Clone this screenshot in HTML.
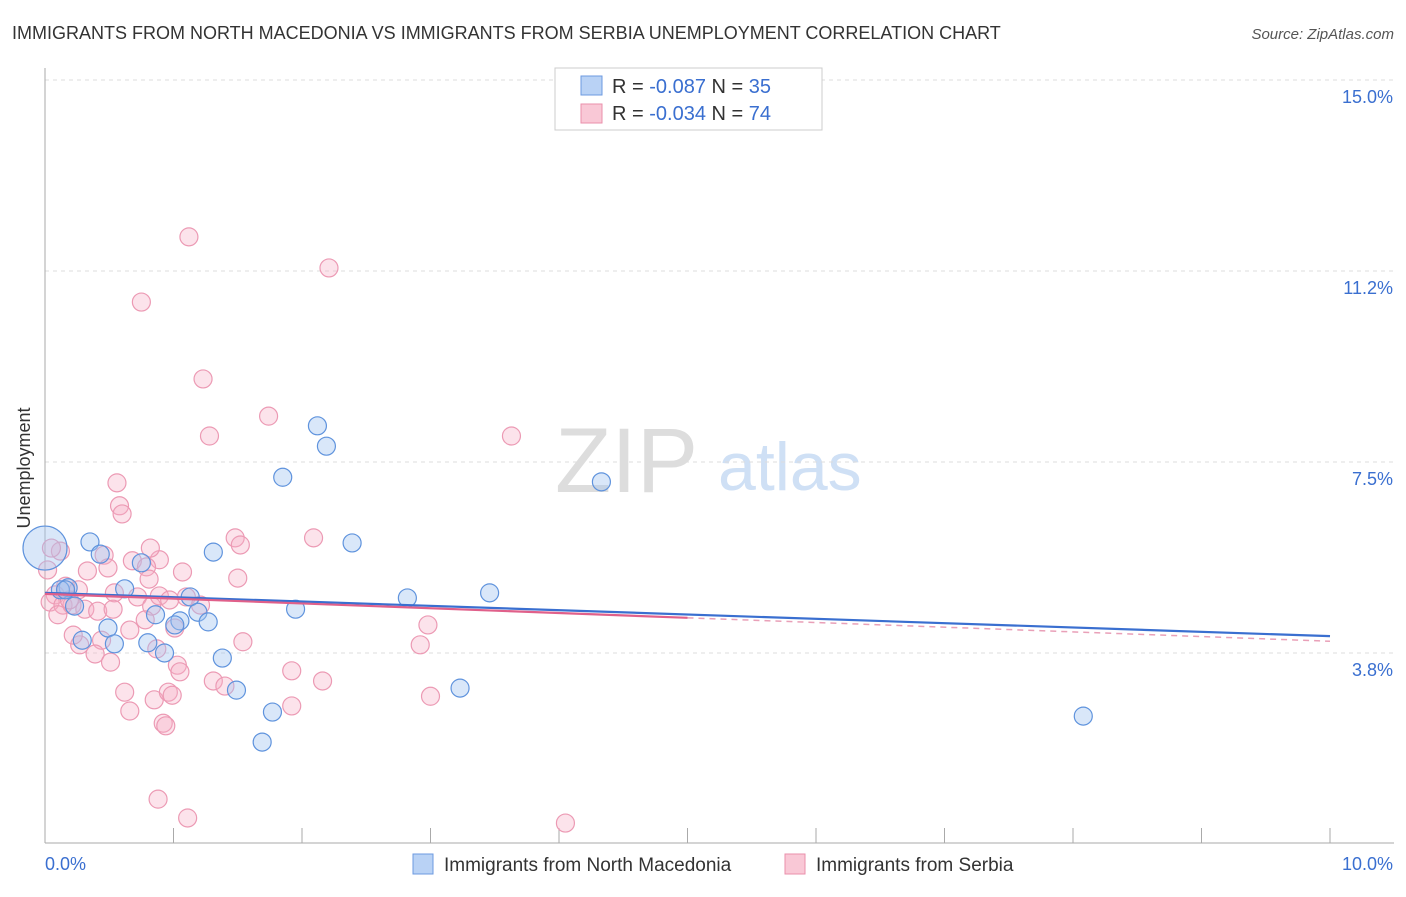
<!DOCTYPE html>
<html><head><meta charset="utf-8"><style>
body{margin:0;background:#fff;font-family:"Liberation Sans",sans-serif}
svg text{font-family:"Liberation Sans",sans-serif}
</style></head><body>
<svg width="1406" height="892" xmlns="http://www.w3.org/2000/svg">
<text x="12" y="39" font-size="18" fill="#333">IMMIGRANTS FROM NORTH MACEDONIA VS IMMIGRANTS FROM SERBIA UNEMPLOYMENT CORRELATION CHART</text>
<text x="1394" y="39" font-size="15" fill="#555" font-style="italic" text-anchor="end">Source: ZipAtlas.com</text>
<text x="18" y="456" font-size="18" fill="#333" transform="rotate(-90 30 456)" text-anchor="middle">Unemployment</text>
<text x="555" y="492" font-size="92" fill="#ddd" font-family="Liberation Serif">ZIP</text>
<text x="718" y="490" font-size="68" fill="#cfe0f5">atlas</text>
<g id="grid"></g><g id="axes"></g><g id="pts"></g><g id="trend"></g>
<g>
<rect x="555" y="68" width="267" height="62" fill="#fff" stroke="#ccc"/>
<rect x="581" y="76" width="21" height="19" fill="#b9d2f5" stroke="#6c9ae0"/>
<rect x="581" y="104" width="21" height="19" fill="#f9c8d6" stroke="#ea8fab"/>
<text x="612" y="93" font-size="20" fill="#333">R = <tspan fill="#3a6fd0">-0.087</tspan>   N = <tspan fill="#3a6fd0">35</tspan></text>
<text x="612" y="120" font-size="20" fill="#333">R = <tspan fill="#3a6fd0">-0.034</tspan>   N = <tspan fill="#3a6fd0">74</tspan></text>
</g>
<g>
<rect x="413" y="854" width="20" height="20" fill="#b9d2f5" stroke="#6c9ae0"/>
<text x="444" y="871" font-size="19" fill="#333">Immigrants from North Macedonia</text>
<rect x="785" y="854" width="20" height="20" fill="#f9c8d6" stroke="#ea8fab"/>
<text x="816" y="871" font-size="19" fill="#333">Immigrants from Serbia</text>
</g>
</svg>
<script>
const blueX=[0.00,0.35,0.43,0.62,0.18,0.12,0.23,0.29,0.49,0.54,0.75,0.86,0.80,0.93,1.05,1.13,1.19,1.27,1.31,1.38,1.49,1.01,1.77,1.69,1.85,1.95,2.12,2.19,2.39,2.82,3.23,3.46,4.33,8.08,0.16];
const blueY=[5.81,5.93,5.69,5.01,5.03,4.99,4.67,4.00,4.24,3.93,5.52,4.50,3.95,3.75,4.38,4.85,4.55,4.36,5.73,3.65,3.02,4.30,2.59,2.00,7.20,4.61,8.21,7.81,5.91,4.83,3.06,4.93,7.11,2.51,4.99];
const pinkX=[1.12,2.21,0.75,1.23,1.74,1.28,3.63,0.56,0.58,0.60,1.48,2.09,0.12,0.05,0.46,0.68,0.49,0.89,0.79,1.07,0.81,1.50,0.33,0.16,0.26,0.08,0.04,0.14,0.21,0.54,0.31,0.41,0.53,0.72,0.83,0.89,0.97,1.10,0.78,1.01,0.66,0.44,0.27,0.22,0.39,0.51,0.87,1.03,1.05,1.54,1.92,1.31,1.40,2.16,2.92,2.98,3.00,1.92,0.62,0.66,0.85,0.96,0.99,0.92,0.94,0.88,1.11,4.05,0.02,0.10,0.82,1.21,1.52,0.19];
const pinkY=[11.92,11.31,10.64,9.13,8.40,8.01,8.01,7.09,6.64,6.48,6.01,6.01,5.75,5.81,5.67,5.56,5.42,5.58,5.44,5.34,5.20,5.22,5.36,5.06,4.99,4.89,4.75,4.69,4.69,4.93,4.61,4.57,4.61,4.85,4.67,4.87,4.79,4.85,4.40,4.24,4.20,4.00,3.91,4.10,3.73,3.57,3.83,3.51,3.38,3.97,3.40,3.20,3.10,3.20,3.91,4.30,2.90,2.71,2.98,2.61,2.83,2.98,2.92,2.37,2.32,0.88,0.51,0.41,5.38,4.50,5.81,4.69,5.87,4.79];
const yTicks=[15.0,11.25,7.5,3.75];
const yTickLabels=["15.0%","11.2%","7.5%","3.8%"];
const xTicks=[0,1,2,3,4,5,6,7,8,9,10];
const blueTrend=[[0,4.93],[10,4.08]];
const pinkTrend=[[0,4.91],[5,4.44]];
const pinkDash=[[5,4.44],[10,3.98]];
const NS="http://www.w3.org/2000/svg";
const xs=v=>45+v*128.5, ys=v=>80+(15-v)*50.93;
function mk(t,a,p){const e=document.createElementNS(NS,t);for(const k in a)e.setAttribute(k,a[k]);p.appendChild(e);return e;}
const G=document.getElementById('grid'),A=document.getElementById('axes'),P=document.getElementById('pts'),T=document.getElementById('trend');
yTicks.forEach((v,i)=>{const l=mk('line',{x1:45,x2:1394,y1:ys(v),y2:ys(v),stroke:'#ddd','stroke-dasharray':'4,4'},G);


const t=mk('text',{x:1393,y:ys(v)+23,'font-size':18,fill:'#3a6fd0','text-anchor':'end'},G);t.textContent=yTickLabels[i];

});
const ax=mk('line',{x1:45,x2:45,y1:68,y2:843,stroke:'#aaa'},A);


const bx=mk('line',{x1:45,x2:1394,y1:843,y2:843,stroke:'#aaa'},A);


xTicks.forEach(v=>{const l=mk('line',{x1:xs(v),x2:xs(v),y1:828,y2:843,stroke:'#aaa'},A);

});
const x0=mk('text',{x:45,y:870,'font-size':18,fill:'#3a6fd0'},A);x0.textContent='0.0%';


const x1=mk('text',{x:1393,y:870,'font-size':18,fill:'#3a6fd0','text-anchor':'end'},A);x1.textContent='10.0%';


pinkX.forEach((v,i)=>{const c=mk('circle',{cx:xs(v),cy:ys(pinkY[i]),r:9,fill:'rgba(246,175,198,0.35)',stroke:'#ec9ab4','stroke-width':1.2},P);

});
blueX.forEach((v,i)=>{const c=mk('circle',{cx:xs(v),cy:ys(blueY[i]),r:i==0?22:9,fill:'rgba(160,195,240,0.4)',stroke:'#5f93dd','stroke-width':1.2},P);

});
const bl=mk('line',{x1:xs(blueTrend[0][0]),y1:ys(blueTrend[0][1]),x2:xs(blueTrend[1][0]),y2:ys(blueTrend[1][1]),stroke:'#3a6fd0','stroke-width':2.2},T);


const pd=mk('line',{x1:xs(pinkDash[0][0]),y1:ys(pinkDash[0][1]),x2:xs(pinkDash[1][0]),y2:ys(pinkDash[1][1]),stroke:'#e9a0b8','stroke-width':1.5,'stroke-dasharray':'6,5'},T);


const pl=mk('line',{x1:xs(pinkTrend[0][0]),y1:ys(pinkTrend[0][1]),x2:xs(pinkTrend[1][0]),y2:ys(pinkTrend[1][1]),stroke:'#e0608a','stroke-width':2.2},T);


</script>
</body></html>
